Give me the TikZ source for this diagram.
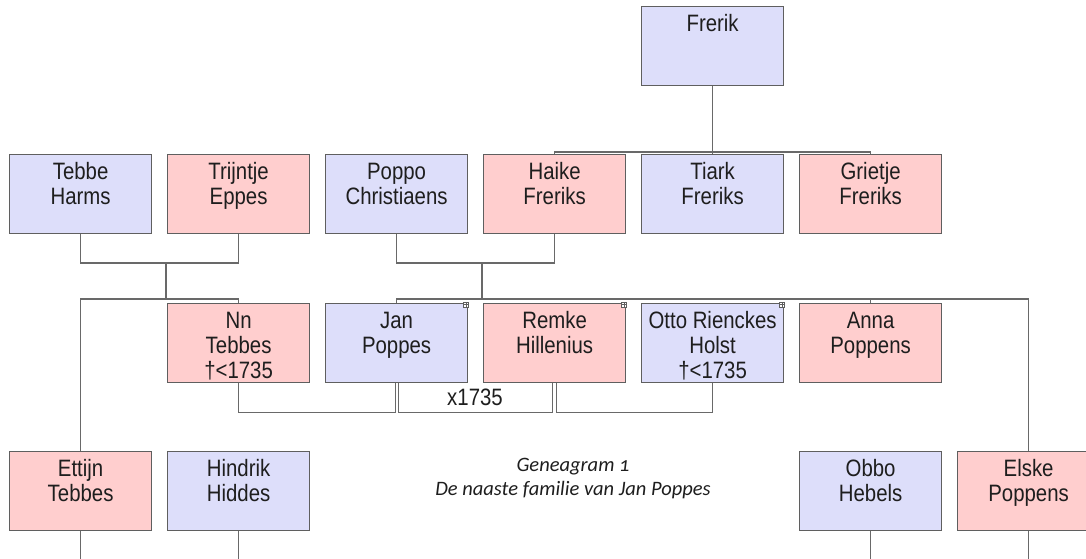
\documentclass[tikz,border=0pt]{standalone}
\usepackage{fontspec}
\usepackage{tikz}
\newfontfamily\boxfont[FakeStretch=0.86]{Liberation Sans}
\newfontfamily\capfont[Numbers=OldStyle]{Carlito}
\definecolor{man}{RGB}{221,222,250}
\definecolor{vrouw}{RGB}{255,206,206}
\definecolor{rand}{RGB}{95,95,95}
\definecolor{lijnkleur}{RGB}{105,105,105}
\definecolor{tekst}{RGB}{30,30,30}
\newcommand{\naam}[1]{\parbox[t][79pt][t]{142pt}{\centering\boxfont\fontsize{23.7pt}{25pt}\selectfont\rule{0pt}{24.5pt}#1}}

\begin{document}
\begin{tikzpicture}[x=1pt, y=-1pt,
  persoon/.style={draw=rand, line width=1.2pt, inner sep=0pt, anchor=north west, text=tekst},
  m/.style={persoon, fill=man},
  v/.style={persoon, fill=vrouw},
  lijn/.style={draw=lijnkleur, line width=1.1pt},
  plusje/.style={draw=rand, fill=white, line width=.5pt, minimum size=5pt, inner sep=0pt,
    path picture={\draw[line width=.4pt] (path picture bounding box.west) -- (path picture bounding box.east)
      (path picture bounding box.north) -- (path picture bounding box.south);}}]
\clip (0,0) rectangle (1086,558);
\fill[white] (0,0) rectangle (1086,558);
% grootouders
\node[m] (frerik) at (641,6) {\naam{Frerik}};
% ouders en ooms/tantes
\node[m] (tebbe) at (9,154) {\naam{Tebbe\\Harms}};
\node[v] (trijntje) at (167,154) {\naam{Trijntje\\Eppes}};
\node[m] (poppo) at (325,154) {\naam{Poppo\\Christiaens}};
\node[v] (haike) at (483,154) {\naam{Haike\\Freriks}};
\node[m] (tiark) at (641,154) {\naam{Tiark\\Freriks}};
\node[v] (grietje) at (799,154) {\naam{Grietje\\Freriks}};
% generatie van Jan
\node[v] (nn) at (167,303) {\naam{Nn\\Tebbes\\†<1735}};
\node[m] (jan) at (325,303) {\naam{Jan\\Poppes}};
\node[v] (remke) at (483,303) {\naam{Remke\\Hillenius}};
\node[m] (otto) at (641,303) {\naam{Otto Rienckes\\Holst\\†<1735}};
\node[v] (anna) at (799,303) {\naam{Anna\\Poppens}};
% onderste rij
\node[v] (ettijn) at (9,451) {\naam{Ettijn\\Tebbes}};
\node[m] (hindrik) at (167,451) {\naam{Hindrik\\Hiddes}};
\node[m] (obbo) at (799,451) {\naam{Obbo\\Hebels}};
\node[v] (elske) at (957,451) {\naam{Elske\\Poppens}};
% uitklapknopjes
\node[plusje] (pjan) at ([shift={(-2.5,1.5)}]jan.north east) {};
\node[plusje] (premke) at ([shift={(-2.5,1.5)}]remke.north east) {};
\node[plusje] (potto) at ([shift={(-2.5,1.5)}]otto.north east) {};
% kinderen van Frerik
\coordinate (k0) at (712,152);
\draw[lijn] (frerik.south) -- (tiark.north);
\draw[lijn] (haike.north) |- (k0) -| (grietje.north);
% Tebbe x Trijntje
\coordinate (h1) at (166,263);
\coordinate (k1) at (166,299);
\draw[lijn] (tebbe.south) |- (h1) -| (trijntje.south);
\draw[lijn] (h1) -- (k1);
\draw[lijn] (ettijn.north) |- (k1) -| (nn.north);
% Poppo x Haike
\coordinate (h2) at (482,263);
\coordinate (k2) at (482,299);
\draw[lijn] (poppo.south) |- (h2) -| (haike.south);
\draw[lijn] (h2) -- (k2);
\draw[lijn] (jan.north) |- (k2) -| (anna.north);
\draw[lijn] (k2) -| (elske.north);
% huwelijken
\draw[lijn] (nn.south) -- ++(0,29) -| ([xshift=-1.5pt]jan.south);
\draw[lijn] ([xshift=1.5pt]jan.south) -- ++(0,29) -| ([xshift=-2pt]remke.south);
\draw[lijn] ([xshift=2pt]remke.south) -- ++(0,29) -| (otto.south);
\node[text=tekst, inner sep=0pt, font=\boxfont\fontsize{23.7pt}{25pt}\selectfont] (x1735) at (475,397) {x1735};
% naar beneden
\draw[lijn] (ettijn.south) -- (ettijn.south |- 0,560);
\draw[lijn] (hindrik.south) -- (hindrik.south |- 0,560);
\draw[lijn] (obbo.south) -- (obbo.south |- 0,560);
\draw[lijn] (elske.south) -- (elske.south |- 0,560);
% bijschrift
\node[align=center, text=tekst, font=\capfont\itshape\fontsize{20.5pt}{24pt}\selectfont] (titel) at (573,478)
  {Geneagram 1\\De naaste familie van Jan Poppes};
\end{tikzpicture}
\end{document}
